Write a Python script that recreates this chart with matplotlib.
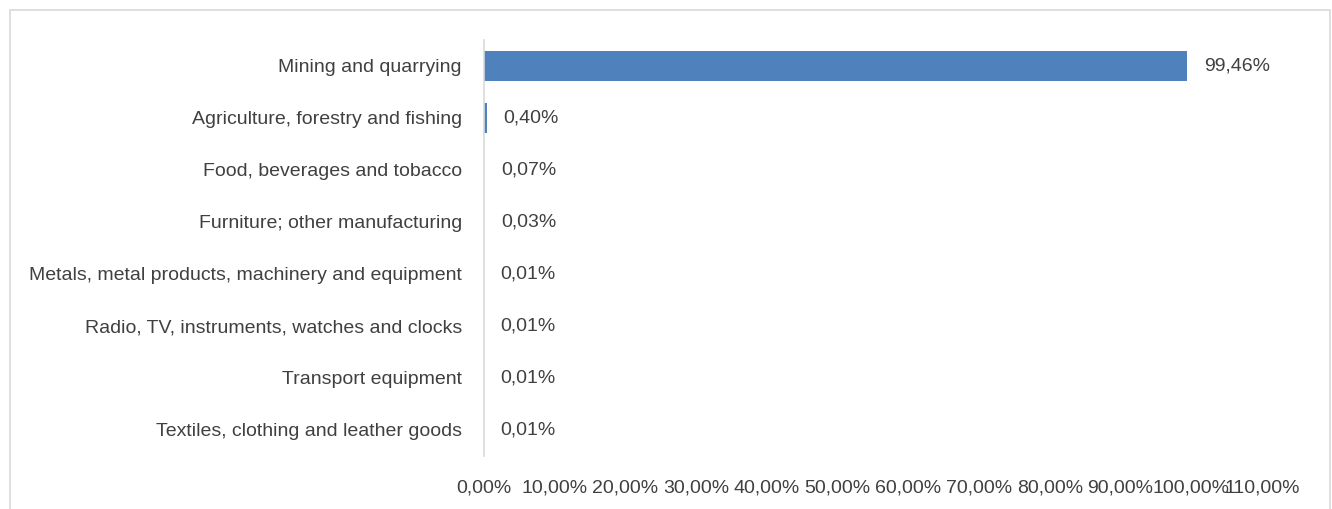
import matplotlib.pyplot as plt
from matplotlib.patches import Rectangle

sectors = [
    "Mining and quarrying",
    "Agriculture, forestry and fishing",
    "Food, beverages and tobacco",
    "Furniture; other manufacturing",
    "Metals, metal products, machinery and equipment",
    "Radio, TV, instruments, watches and clocks",
    "Transport equipment",
    "Textiles, clothing and leather goods",
]
shares = [99.46, 0.40, 0.07, 0.03, 0.01, 0.01, 0.01, 0.01]
xticks = [0, 10, 20, 30, 40, 50, 60, 70, 80, 90, 100, 110]

def pct(v):
    return f"{v:.2f}%".replace(".", ",")

plt.rcParams['font.family'] = ['Liberation Sans', 'DejaVu Sans']
txt = '#404040'

fig = plt.figure(figsize=(13.32, 5.09), dpi=100)
ax = fig.add_axes([484 / 1332, 1 - 456 / 509, (1262 - 484) / 1332, 416 / 509])

# chart frame
fig.patches.append(Rectangle((10 / 1332, -0.1), 1320 / 1332, 1.1 - 10 / 509,
                             transform=fig.transFigure, fill=False,
                             edgecolor='#d9d9d9', linewidth=1.2))

pos = list(range(len(sectors)))
ax.barh(pos, shares, height=0.58, color='#4f81bd')
for p, v in zip(pos, shares):
    ax.annotate(pct(v), (v, p), xytext=(12, 0), textcoords='offset points',
                va='center', ha='left', fontsize=14, color=txt)

ax.set_ylim(len(sectors) - 0.5, -0.5)
ax.set_xlim(0, 110)
ax.set_yticks(pos)
ax.set_yticklabels(sectors, fontsize=14, color=txt)
ax.set_xticks(xticks)
ax.set_xticklabels([pct(t) for t in xticks], fontsize=14, color=txt)
ax.tick_params(length=0)
ax.tick_params(axis='x', pad=17)
ax.tick_params(axis='y', pad=16)
for s in ['top', 'right', 'bottom']:
    ax.spines[s].set_visible(False)
ax.spines['left'].set_color('#d9d9d9')
ax.spines['left'].set_linewidth(1.2)

fig.savefig('out.png', dpi=100)
